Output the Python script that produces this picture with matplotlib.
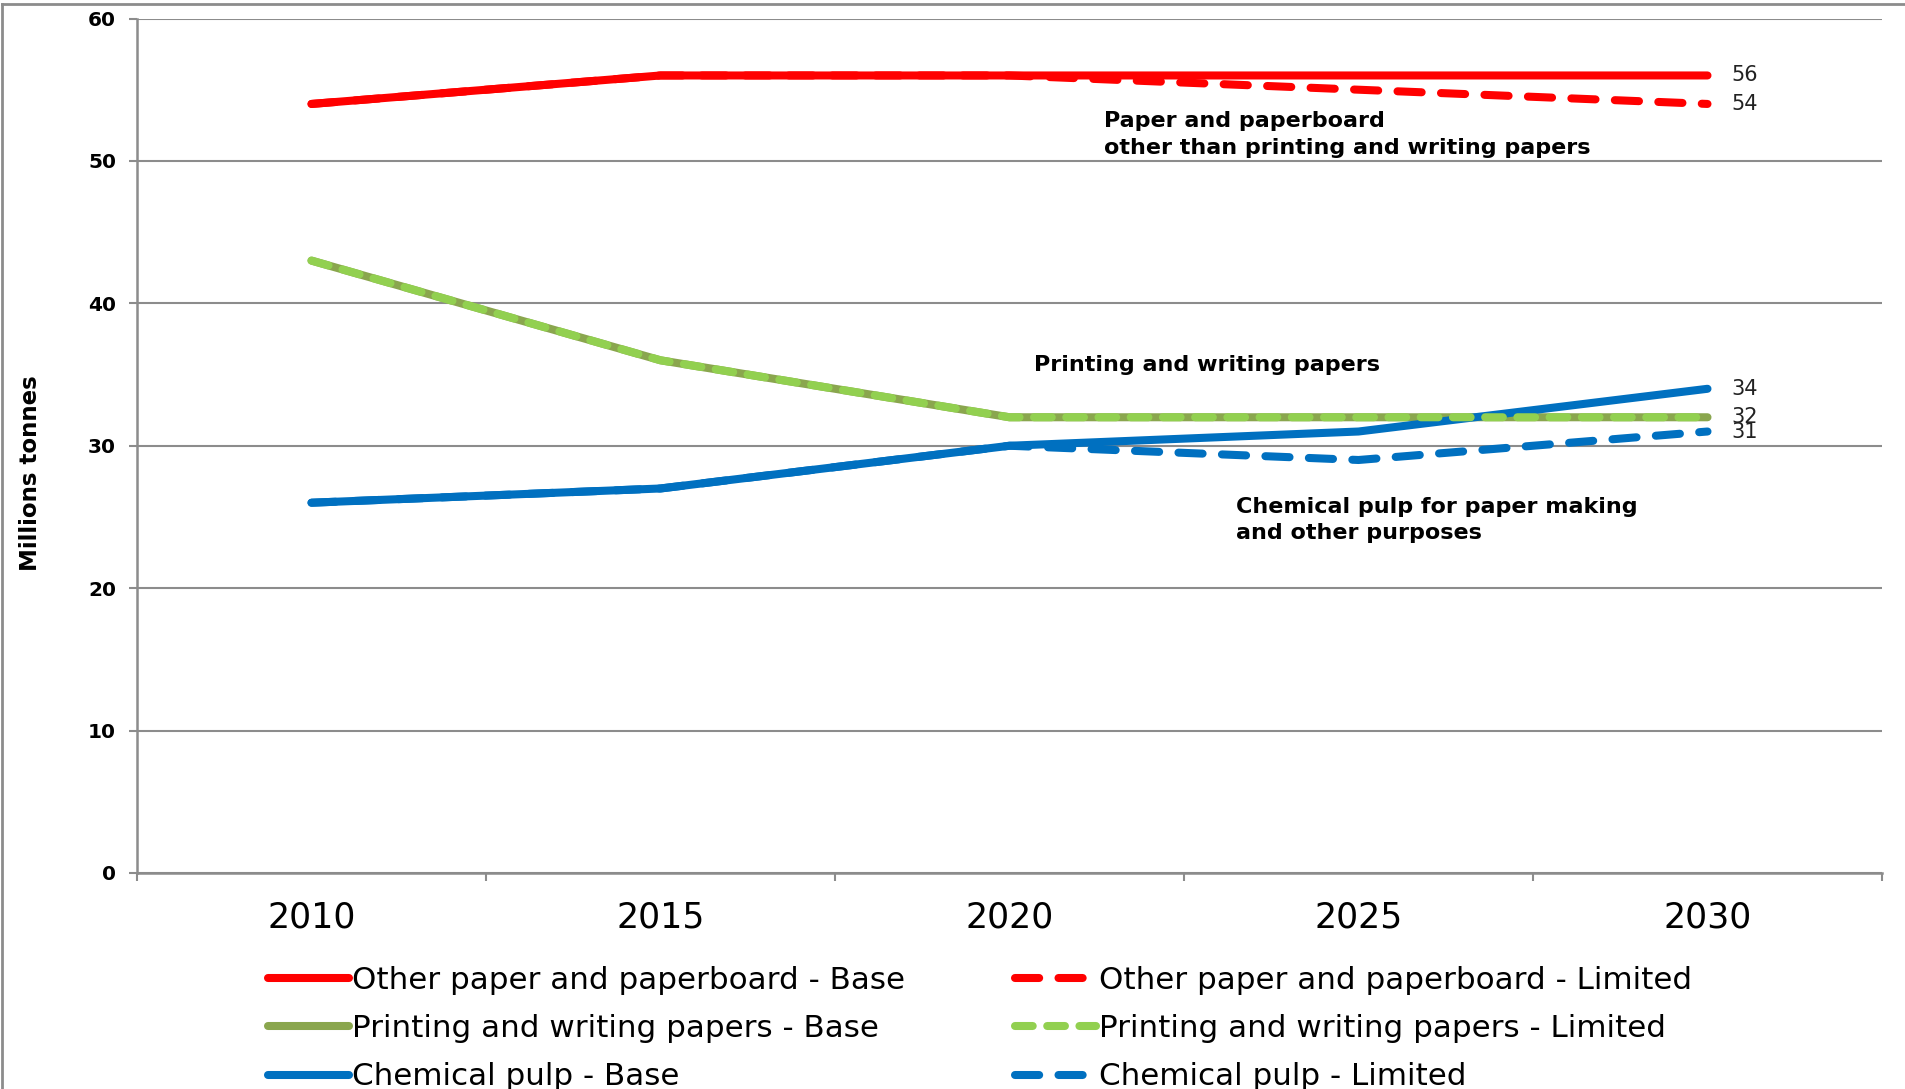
import matplotlib.pyplot as plt
from matplotlib.lines import Line2D
from matplotlib.ticker import FixedLocator, NullFormatter

years = ["2010", "2015", "2020", "2025", "2030"]
other_base = [54, 56, 56, 56, 56]
other_limited = [54, 56, 56, 55, 54]
printing_base = [43, 36, 32, 32, 32]
printing_limited = [43, 36, 32, 32, 32]
pulp_base = [26, 27, 30, 31, 34]
pulp_limited = [26, 27, 30, 29, 31]
end_labels = ["56", "54", "34", "32", "31"]
end_values = [56, 54, 34, 32, 31]
y_ticks = [0, 10, 20, 30, 40, 50, 60]

RED = "#ff0000"
OLIVE = "#8aa64e"
LGREEN = "#92d050"
BLUE = "#0070c0"
GRAY = "#8c8c8c"


def main():
    fig = plt.figure(figsize=(19.05, 10.89), dpi=100)
    ax = fig.add_axes([137 / 1905, 1 - 873 / 1089, (1882 - 137) / 1905, (873 - 18.5) / 1089])
    x = list(range(len(years)))

    lw = 5.8
    ax.plot(x, other_base, color=RED, lw=lw, solid_capstyle="round", label="Other paper and paperboard - Base", zorder=3)
    ax.plot(x, printing_base, color=OLIVE, lw=lw, solid_capstyle="round", label="Printing and writing papers - Base", zorder=3)
    ax.plot(x, pulp_base, color=BLUE, lw=lw, solid_capstyle="round", label="Chemical pulp - Base", zorder=3)
    ax.plot(x, other_limited, color=RED, lw=lw, dashes=(3.0, 2.4), dash_capstyle="round",
            label="Other paper and paperboard - Limited", zorder=3)
    ax.plot(x, printing_limited, color=LGREEN, lw=lw, dashes=(2.2, 1.8), dash_capstyle="round",
            label="Printing and writing papers - Limited", zorder=3)
    ax.plot(x, pulp_limited, color=BLUE, lw=lw, dashes=(3.0, 2.4), dash_capstyle="round",
            label="Chemical pulp - Limited", zorder=3)

    ax.set_xlim(-0.5, len(years) - 0.5)
    ax.set_ylim(0, 60)

    ax.xaxis.set_major_locator(FixedLocator([i - 0.5 for i in range(len(years) + 1)]))
    ax.xaxis.set_major_formatter(NullFormatter())
    ax.xaxis.set_minor_locator(FixedLocator(x))
    ax.set_xticklabels(years, minor=True)
    ax.tick_params(axis="x", which="major", direction="out", length=6, width=1.5, color=GRAY)
    ax.tick_params(axis="x", which="minor", length=0, pad=20, labelsize=25)

    ax.set_yticks(y_ticks)
    ax.tick_params(axis="y", direction="out", length=6, width=1.5, color=GRAY, labelsize=14.5, pad=9)
    for lab in ax.get_yticklabels():
        lab.set_fontweight("bold")

    ax.grid(axis="y", color=GRAY, lw=1.5)
    ax.set_axisbelow(True)
    for side in ("top", "right"):
        ax.spines[side].set_visible(False)
    for side in ("left", "bottom"):
        ax.spines[side].set_color(GRAY)
        ax.spines[side].set_linewidth(1.8)

    # end-of-line values; 32 and 31 sit almost on top of each other as in the original
    for lab, val in zip(end_labels, end_values):
        ax.annotate(lab, (x[-1], val), xytext=(17, 0), textcoords="offset points",
                    va="center", ha="left", fontsize=15, color="#222222")

    ax.text(2.27, 51.85, "Paper and paperboard\nother than printing and writing papers",
            fontsize=16, fontweight="bold", va="center", ha="left", linespacing=1.4)
    ax.text(2.07, 35.7, "Printing and writing papers",
            fontsize=16, fontweight="bold", va="center", ha="left")
    ax.text(2.65, 24.8, "Chemical pulp for paper making\nand other purposes",
            fontsize=16, fontweight="bold", va="center", ha="left", linespacing=1.4)

    fig.text(31 / 1905, 1 - 473 / 1089, "Millions tonnes", rotation=90, va="center", ha="center",
             fontsize=16.5, fontweight="bold")

    handles, labels = ax.get_legend_handles_labels()
    fig.legend(handles, labels, ncol=2, loc="upper left", bbox_to_anchor=(268 / 1905, 1 - 966 / 1089),
               frameon=False, fontsize=22.3, handlelength=2.6, handletextpad=0.12,
               columnspacing=3.55, labelspacing=0.62, borderpad=0, borderaxespad=0)

    # outer frame remnants of the original chart box
    fig.add_artist(Line2D([2 / 1905, 2 / 1905], [0, 1 - 4 / 1089], transform=fig.transFigure, color=GRAY, lw=2))
    fig.add_artist(Line2D([2 / 1905, 1], [1 - 4 / 1089, 1 - 4 / 1089], transform=fig.transFigure, color=GRAY, lw=2))

    fig.savefig("out.png", dpi=100)
    plt.close(fig)


if __name__ == "__main__":
    main()
